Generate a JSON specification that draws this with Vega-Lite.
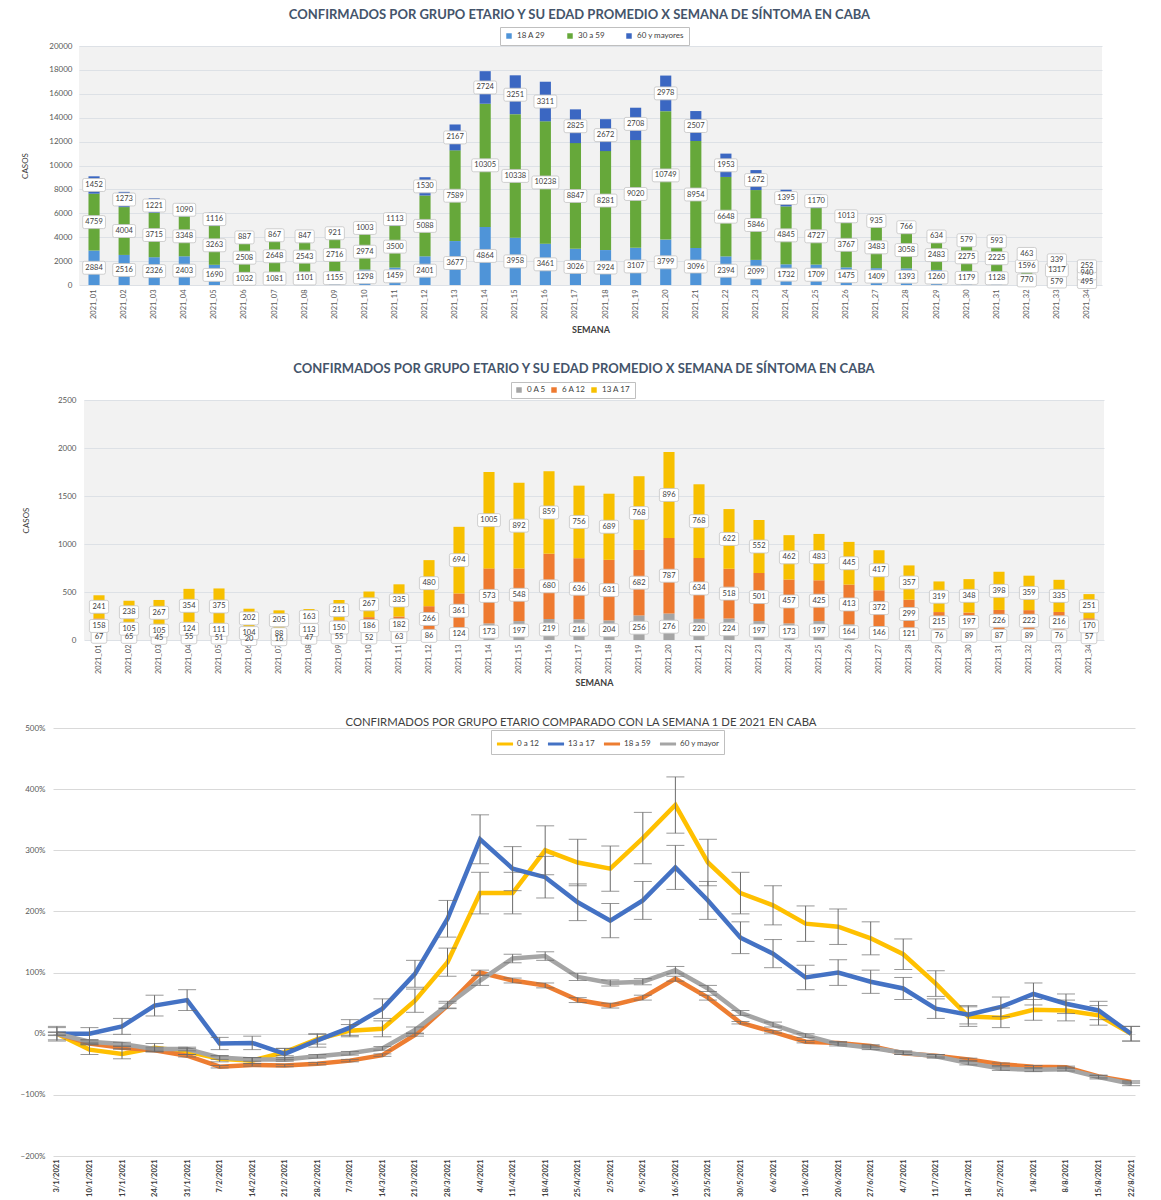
{
"$schema":"https://vega.github.io/schema/vega-lite/v6.json",
"background":"white",
"padding":{"left":20,"top":9,"right":10,"bottom":2},
"config":{
 "font":"Lato",
 "view":{"stroke":null},
 "axis":{"labelColor":"#595959","labelFontSize":8,"domain":false,"ticks":false,"gridColor":"#dde1e6","titleColor":"#404040","titleFontWeight":"normal"},
 "legend":{"labelColor":"#404040","labelFontSize":8,"strokeColor":"#bfbfbf","fillColor":"white","padding":4,"columnPadding":18},
 "title":{"anchor":"middle"}
},
"datasets":{
"p1":[
{"s":"2021_01","g":"18 A 29","o":1,"v":2884},{"s":"2021_01","g":"30 a 59","o":2,"v":4759},{"s":"2021_01","g":"60 y mayores","o":3,"v":1452},
{"s":"2021_02","g":"18 A 29","o":1,"v":2516},{"s":"2021_02","g":"30 a 59","o":2,"v":4004},{"s":"2021_02","g":"60 y mayores","o":3,"v":1273},
{"s":"2021_03","g":"18 A 29","o":1,"v":2326},{"s":"2021_03","g":"30 a 59","o":2,"v":3715},{"s":"2021_03","g":"60 y mayores","o":3,"v":1221},
{"s":"2021_04","g":"18 A 29","o":1,"v":2403},{"s":"2021_04","g":"30 a 59","o":2,"v":3348},{"s":"2021_04","g":"60 y mayores","o":3,"v":1090},
{"s":"2021_05","g":"18 A 29","o":1,"v":1690},{"s":"2021_05","g":"30 a 59","o":2,"v":3263},{"s":"2021_05","g":"60 y mayores","o":3,"v":1116},
{"s":"2021_06","g":"18 A 29","o":1,"v":1032},{"s":"2021_06","g":"30 a 59","o":2,"v":2508},{"s":"2021_06","g":"60 y mayores","o":3,"v":887},
{"s":"2021_07","g":"18 A 29","o":1,"v":1081},{"s":"2021_07","g":"30 a 59","o":2,"v":2648},{"s":"2021_07","g":"60 y mayores","o":3,"v":867},
{"s":"2021_08","g":"18 A 29","o":1,"v":1101},{"s":"2021_08","g":"30 a 59","o":2,"v":2543},{"s":"2021_08","g":"60 y mayores","o":3,"v":847},
{"s":"2021_09","g":"18 A 29","o":1,"v":1155},{"s":"2021_09","g":"30 a 59","o":2,"v":2716},{"s":"2021_09","g":"60 y mayores","o":3,"v":921},
{"s":"2021_10","g":"18 A 29","o":1,"v":1298},{"s":"2021_10","g":"30 a 59","o":2,"v":2974},{"s":"2021_10","g":"60 y mayores","o":3,"v":1003},
{"s":"2021_11","g":"18 A 29","o":1,"v":1459},{"s":"2021_11","g":"30 a 59","o":2,"v":3500},{"s":"2021_11","g":"60 y mayores","o":3,"v":1113},
{"s":"2021_12","g":"18 A 29","o":1,"v":2401},{"s":"2021_12","g":"30 a 59","o":2,"v":5088},{"s":"2021_12","g":"60 y mayores","o":3,"v":1530},
{"s":"2021_13","g":"18 A 29","o":1,"v":3677},{"s":"2021_13","g":"30 a 59","o":2,"v":7589},{"s":"2021_13","g":"60 y mayores","o":3,"v":2167},
{"s":"2021_14","g":"18 A 29","o":1,"v":4864},{"s":"2021_14","g":"30 a 59","o":2,"v":10305},{"s":"2021_14","g":"60 y mayores","o":3,"v":2724},
{"s":"2021_15","g":"18 A 29","o":1,"v":3958},{"s":"2021_15","g":"30 a 59","o":2,"v":10338},{"s":"2021_15","g":"60 y mayores","o":3,"v":3251},
{"s":"2021_16","g":"18 A 29","o":1,"v":3461},{"s":"2021_16","g":"30 a 59","o":2,"v":10238},{"s":"2021_16","g":"60 y mayores","o":3,"v":3311},
{"s":"2021_17","g":"18 A 29","o":1,"v":3026},{"s":"2021_17","g":"30 a 59","o":2,"v":8847},{"s":"2021_17","g":"60 y mayores","o":3,"v":2825},
{"s":"2021_18","g":"18 A 29","o":1,"v":2924},{"s":"2021_18","g":"30 a 59","o":2,"v":8281},{"s":"2021_18","g":"60 y mayores","o":3,"v":2672},
{"s":"2021_19","g":"18 A 29","o":1,"v":3107},{"s":"2021_19","g":"30 a 59","o":2,"v":9020},{"s":"2021_19","g":"60 y mayores","o":3,"v":2708},
{"s":"2021_20","g":"18 A 29","o":1,"v":3799},{"s":"2021_20","g":"30 a 59","o":2,"v":10749},{"s":"2021_20","g":"60 y mayores","o":3,"v":2978},
{"s":"2021_21","g":"18 A 29","o":1,"v":3096},{"s":"2021_21","g":"30 a 59","o":2,"v":8954},{"s":"2021_21","g":"60 y mayores","o":3,"v":2507},
{"s":"2021_22","g":"18 A 29","o":1,"v":2394},{"s":"2021_22","g":"30 a 59","o":2,"v":6648},{"s":"2021_22","g":"60 y mayores","o":3,"v":1953},
{"s":"2021_23","g":"18 A 29","o":1,"v":2099},{"s":"2021_23","g":"30 a 59","o":2,"v":5846},{"s":"2021_23","g":"60 y mayores","o":3,"v":1672},
{"s":"2021_24","g":"18 A 29","o":1,"v":1732},{"s":"2021_24","g":"30 a 59","o":2,"v":4845},{"s":"2021_24","g":"60 y mayores","o":3,"v":1395},
{"s":"2021_25","g":"18 A 29","o":1,"v":1709},{"s":"2021_25","g":"30 a 59","o":2,"v":4727},{"s":"2021_25","g":"60 y mayores","o":3,"v":1170},
{"s":"2021_26","g":"18 A 29","o":1,"v":1475},{"s":"2021_26","g":"30 a 59","o":2,"v":3767},{"s":"2021_26","g":"60 y mayores","o":3,"v":1013},
{"s":"2021_27","g":"18 A 29","o":1,"v":1409},{"s":"2021_27","g":"30 a 59","o":2,"v":3483},{"s":"2021_27","g":"60 y mayores","o":3,"v":935},
{"s":"2021_28","g":"18 A 29","o":1,"v":1393},{"s":"2021_28","g":"30 a 59","o":2,"v":3058},{"s":"2021_28","g":"60 y mayores","o":3,"v":766},
{"s":"2021_29","g":"18 A 29","o":1,"v":1260},{"s":"2021_29","g":"30 a 59","o":2,"v":2483},{"s":"2021_29","g":"60 y mayores","o":3,"v":634},
{"s":"2021_30","g":"18 A 29","o":1,"v":1179},{"s":"2021_30","g":"30 a 59","o":2,"v":2275},{"s":"2021_30","g":"60 y mayores","o":3,"v":579},
{"s":"2021_31","g":"18 A 29","o":1,"v":1128},{"s":"2021_31","g":"30 a 59","o":2,"v":2225},{"s":"2021_31","g":"60 y mayores","o":3,"v":593},
{"s":"2021_32","g":"18 A 29","o":1,"v":770},{"s":"2021_32","g":"30 a 59","o":2,"v":1596},{"s":"2021_32","g":"60 y mayores","o":3,"v":463},
{"s":"2021_33","g":"18 A 29","o":1,"v":579},{"s":"2021_33","g":"30 a 59","o":2,"v":1317},{"s":"2021_33","g":"60 y mayores","o":3,"v":339},
{"s":"2021_34","g":"18 A 29","o":1,"v":495},{"s":"2021_34","g":"30 a 59","o":2,"v":940},{"s":"2021_34","g":"60 y mayores","o":3,"v":252}
],
"p2":[
{"s":"2021_01","g":"0 A 5","o":1,"v":67},{"s":"2021_01","g":"6 A 12","o":2,"v":158},{"s":"2021_01","g":"13 A 17","o":3,"v":241},
{"s":"2021_02","g":"0 A 5","o":1,"v":65},{"s":"2021_02","g":"6 A 12","o":2,"v":105},{"s":"2021_02","g":"13 A 17","o":3,"v":238},
{"s":"2021_03","g":"0 A 5","o":1,"v":45},{"s":"2021_03","g":"6 A 12","o":2,"v":105},{"s":"2021_03","g":"13 A 17","o":3,"v":267},
{"s":"2021_04","g":"0 A 5","o":1,"v":55},{"s":"2021_04","g":"6 A 12","o":2,"v":124},{"s":"2021_04","g":"13 A 17","o":3,"v":354},
{"s":"2021_05","g":"0 A 5","o":1,"v":51},{"s":"2021_05","g":"6 A 12","o":2,"v":111},{"s":"2021_05","g":"13 A 17","o":3,"v":375},
{"s":"2021_06","g":"0 A 5","o":1,"v":20},{"s":"2021_06","g":"6 A 12","o":2,"v":104},{"s":"2021_06","g":"13 A 17","o":3,"v":202},
{"s":"2021_07","g":"0 A 5","o":1,"v":16},{"s":"2021_07","g":"6 A 12","o":2,"v":88},{"s":"2021_07","g":"13 A 17","o":3,"v":205},
{"s":"2021_08","g":"0 A 5","o":1,"v":47},{"s":"2021_08","g":"6 A 12","o":2,"v":113},{"s":"2021_08","g":"13 A 17","o":3,"v":163},
{"s":"2021_09","g":"0 A 5","o":1,"v":55},{"s":"2021_09","g":"6 A 12","o":2,"v":150},{"s":"2021_09","g":"13 A 17","o":3,"v":211},
{"s":"2021_10","g":"0 A 5","o":1,"v":52},{"s":"2021_10","g":"6 A 12","o":2,"v":186},{"s":"2021_10","g":"13 A 17","o":3,"v":267},
{"s":"2021_11","g":"0 A 5","o":1,"v":63},{"s":"2021_11","g":"6 A 12","o":2,"v":182},{"s":"2021_11","g":"13 A 17","o":3,"v":335},
{"s":"2021_12","g":"0 A 5","o":1,"v":86},{"s":"2021_12","g":"6 A 12","o":2,"v":266},{"s":"2021_12","g":"13 A 17","o":3,"v":480},
{"s":"2021_13","g":"0 A 5","o":1,"v":124},{"s":"2021_13","g":"6 A 12","o":2,"v":361},{"s":"2021_13","g":"13 A 17","o":3,"v":694},
{"s":"2021_14","g":"0 A 5","o":1,"v":173},{"s":"2021_14","g":"6 A 12","o":2,"v":573},{"s":"2021_14","g":"13 A 17","o":3,"v":1005},
{"s":"2021_15","g":"0 A 5","o":1,"v":197},{"s":"2021_15","g":"6 A 12","o":2,"v":548},{"s":"2021_15","g":"13 A 17","o":3,"v":892},
{"s":"2021_16","g":"0 A 5","o":1,"v":219},{"s":"2021_16","g":"6 A 12","o":2,"v":680},{"s":"2021_16","g":"13 A 17","o":3,"v":859},
{"s":"2021_17","g":"0 A 5","o":1,"v":216},{"s":"2021_17","g":"6 A 12","o":2,"v":636},{"s":"2021_17","g":"13 A 17","o":3,"v":756},
{"s":"2021_18","g":"0 A 5","o":1,"v":204},{"s":"2021_18","g":"6 A 12","o":2,"v":631},{"s":"2021_18","g":"13 A 17","o":3,"v":689},
{"s":"2021_19","g":"0 A 5","o":1,"v":256},{"s":"2021_19","g":"6 A 12","o":2,"v":682},{"s":"2021_19","g":"13 A 17","o":3,"v":768},
{"s":"2021_20","g":"0 A 5","o":1,"v":276},{"s":"2021_20","g":"6 A 12","o":2,"v":787},{"s":"2021_20","g":"13 A 17","o":3,"v":896},
{"s":"2021_21","g":"0 A 5","o":1,"v":220},{"s":"2021_21","g":"6 A 12","o":2,"v":634},{"s":"2021_21","g":"13 A 17","o":3,"v":768},
{"s":"2021_22","g":"0 A 5","o":1,"v":224},{"s":"2021_22","g":"6 A 12","o":2,"v":518},{"s":"2021_22","g":"13 A 17","o":3,"v":622},
{"s":"2021_23","g":"0 A 5","o":1,"v":197},{"s":"2021_23","g":"6 A 12","o":2,"v":501},{"s":"2021_23","g":"13 A 17","o":3,"v":552},
{"s":"2021_24","g":"0 A 5","o":1,"v":173},{"s":"2021_24","g":"6 A 12","o":2,"v":457},{"s":"2021_24","g":"13 A 17","o":3,"v":462},
{"s":"2021_25","g":"0 A 5","o":1,"v":197},{"s":"2021_25","g":"6 A 12","o":2,"v":425},{"s":"2021_25","g":"13 A 17","o":3,"v":483},
{"s":"2021_26","g":"0 A 5","o":1,"v":164},{"s":"2021_26","g":"6 A 12","o":2,"v":413},{"s":"2021_26","g":"13 A 17","o":3,"v":445},
{"s":"2021_27","g":"0 A 5","o":1,"v":146},{"s":"2021_27","g":"6 A 12","o":2,"v":372},{"s":"2021_27","g":"13 A 17","o":3,"v":417},
{"s":"2021_28","g":"0 A 5","o":1,"v":121},{"s":"2021_28","g":"6 A 12","o":2,"v":299},{"s":"2021_28","g":"13 A 17","o":3,"v":357},
{"s":"2021_29","g":"0 A 5","o":1,"v":76},{"s":"2021_29","g":"6 A 12","o":2,"v":215},{"s":"2021_29","g":"13 A 17","o":3,"v":319},
{"s":"2021_30","g":"0 A 5","o":1,"v":89},{"s":"2021_30","g":"6 A 12","o":2,"v":197},{"s":"2021_30","g":"13 A 17","o":3,"v":348},
{"s":"2021_31","g":"0 A 5","o":1,"v":87},{"s":"2021_31","g":"6 A 12","o":2,"v":226},{"s":"2021_31","g":"13 A 17","o":3,"v":398},
{"s":"2021_32","g":"0 A 5","o":1,"v":89},{"s":"2021_32","g":"6 A 12","o":2,"v":222},{"s":"2021_32","g":"13 A 17","o":3,"v":359},
{"s":"2021_33","g":"0 A 5","o":1,"v":76},{"s":"2021_33","g":"6 A 12","o":2,"v":216},{"s":"2021_33","g":"13 A 17","o":3,"v":335},
{"s":"2021_34","g":"0 A 5","o":1,"v":57},{"s":"2021_34","g":"6 A 12","o":2,"v":170},{"s":"2021_34","g":"13 A 17","o":3,"v":251}
],
"p3":[
{"f":"3/1/2021","g":"0 a 12","v":0,"e":0.10},{"f":"10/1/2021","g":"0 a 12","v":-0.26,"e":0.08},{"f":"17/1/2021","g":"0 a 12","v":-0.33,"e":0.08},{"f":"24/1/2021","g":"0 a 12","v":-0.23,"e":0.07},{"f":"31/1/2021","g":"0 a 12","v":-0.29,"e":0.05},{"f":"7/2/2021","g":"0 a 12","v":-0.41,"e":0.05},{"f":"14/2/2021","g":"0 a 12","v":-0.44,"e":0.05},{"f":"21/2/2021","g":"0 a 12","v":-0.30,"e":0.06},{"f":"28/2/2021","g":"0 a 12","v":-0.09,"e":0.08},{"f":"7/3/2021","g":"0 a 12","v":0.05,"e":0.10},{"f":"14/3/2021","g":"0 a 12","v":0.08,"e":0.13},{"f":"21/3/2021","g":"0 a 12","v":0.54,"e":0.19},{"f":"28/3/2021","g":"0 a 12","v":1.17,"e":0.23},{"f":"4/4/2021","g":"0 a 12","v":2.30,"e":0.34},{"f":"11/4/2021","g":"0 a 12","v":2.30,"e":0.34},{"f":"18/4/2021","g":"0 a 12","v":3.00,"e":0.40},{"f":"25/4/2021","g":"0 a 12","v":2.80,"e":0.38},{"f":"2/5/2021","g":"0 a 12","v":2.70,"e":0.37},{"f":"9/5/2021","g":"0 a 12","v":3.20,"e":0.42},{"f":"16/5/2021","g":"0 a 12","v":3.74,"e":0.46},{"f":"23/5/2021","g":"0 a 12","v":2.80,"e":0.38},{"f":"30/5/2021","g":"0 a 12","v":2.30,"e":0.34},{"f":"6/6/2021","g":"0 a 12","v":2.10,"e":0.32},{"f":"13/6/2021","g":"0 a 12","v":1.80,"e":0.29},{"f":"20/6/2021","g":"0 a 12","v":1.75,"e":0.29},{"f":"27/6/2021","g":"0 a 12","v":1.56,"e":0.27},{"f":"4/7/2021","g":"0 a 12","v":1.30,"e":0.25},{"f":"11/7/2021","g":"0 a 12","v":0.82,"e":0.21},{"f":"18/7/2021","g":"0 a 12","v":0.28,"e":0.16},{"f":"25/7/2021","g":"0 a 12","v":0.26,"e":0.16},{"f":"1/8/2021","g":"0 a 12","v":0.39,"e":0.17},{"f":"8/8/2021","g":"0 a 12","v":0.38,"e":0.17},{"f":"15/8/2021","g":"0 a 12","v":0.30,"e":0.16},{"f":"22/8/2021","g":"0 a 12","v":0.00,"e":0.12},
{"f":"3/1/2021","g":"13 a 17","v":0,"e":0.12},{"f":"10/1/2021","g":"13 a 17","v":0.00,"e":0.10},{"f":"17/1/2021","g":"13 a 17","v":0.12,"e":0.13},{"f":"24/1/2021","g":"13 a 17","v":0.46,"e":0.17},{"f":"31/1/2021","g":"13 a 17","v":0.55,"e":0.17},{"f":"7/2/2021","g":"13 a 17","v":-0.16,"e":0.10},{"f":"14/2/2021","g":"13 a 17","v":-0.15,"e":0.11},{"f":"21/2/2021","g":"13 a 17","v":-0.33,"e":0.09},{"f":"28/2/2021","g":"13 a 17","v":-0.11,"e":0.11},{"f":"7/3/2021","g":"13 a 17","v":0.10,"e":0.13},{"f":"14/3/2021","g":"13 a 17","v":0.41,"e":0.16},{"f":"21/3/2021","g":"13 a 17","v":0.98,"e":0.22},{"f":"28/3/2021","g":"13 a 17","v":1.88,"e":0.30},{"f":"4/4/2021","g":"13 a 17","v":3.18,"e":0.40},{"f":"11/4/2021","g":"13 a 17","v":2.70,"e":0.36},{"f":"18/4/2021","g":"13 a 17","v":2.56,"e":0.34},{"f":"25/4/2021","g":"13 a 17","v":2.15,"e":0.30},{"f":"2/5/2021","g":"13 a 17","v":1.85,"e":0.28},{"f":"9/5/2021","g":"13 a 17","v":2.18,"e":0.31},{"f":"16/5/2021","g":"13 a 17","v":2.72,"e":0.36},{"f":"23/5/2021","g":"13 a 17","v":2.18,"e":0.31},{"f":"30/5/2021","g":"13 a 17","v":1.57,"e":0.26},{"f":"6/6/2021","g":"13 a 17","v":1.31,"e":0.23},{"f":"13/6/2021","g":"13 a 17","v":0.92,"e":0.20},{"f":"20/6/2021","g":"13 a 17","v":1.00,"e":0.21},{"f":"27/6/2021","g":"13 a 17","v":0.85,"e":0.19},{"f":"4/7/2021","g":"13 a 17","v":0.74,"e":0.18},{"f":"11/7/2021","g":"13 a 17","v":0.41,"e":0.16},{"f":"18/7/2021","g":"13 a 17","v":0.31,"e":0.15},{"f":"25/7/2021","g":"13 a 17","v":0.44,"e":0.16},{"f":"1/8/2021","g":"13 a 17","v":0.65,"e":0.18},{"f":"8/8/2021","g":"13 a 17","v":0.49,"e":0.16},{"f":"15/8/2021","g":"13 a 17","v":0.38,"e":0.15},{"f":"22/8/2021","g":"13 a 17","v":0.00,"e":0.12},
{"f":"3/1/2021","g":"18 a 59","v":0,"e":0.02},{"f":"10/1/2021","g":"18 a 59","v":-0.16,"e":0.02},{"f":"17/1/2021","g":"18 a 59","v":-0.23,"e":0.02},{"f":"24/1/2021","g":"18 a 59","v":-0.27,"e":0.02},{"f":"31/1/2021","g":"18 a 59","v":-0.36,"e":0.02},{"f":"7/2/2021","g":"18 a 59","v":-0.54,"e":0.02},{"f":"14/2/2021","g":"18 a 59","v":-0.51,"e":0.02},{"f":"21/2/2021","g":"18 a 59","v":-0.52,"e":0.02},{"f":"28/2/2021","g":"18 a 59","v":-0.49,"e":0.02},{"f":"7/3/2021","g":"18 a 59","v":-0.44,"e":0.02},{"f":"14/3/2021","g":"18 a 59","v":-0.35,"e":0.02},{"f":"21/3/2021","g":"18 a 59","v":-0.02,"e":0.02},{"f":"28/3/2021","g":"18 a 59","v":0.46,"e":0.04},{"f":"4/4/2021","g":"18 a 59","v":1.00,"e":0.04},{"f":"11/4/2021","g":"18 a 59","v":0.87,"e":0.04},{"f":"18/4/2021","g":"18 a 59","v":0.79,"e":0.04},{"f":"25/4/2021","g":"18 a 59","v":0.55,"e":0.04},{"f":"2/5/2021","g":"18 a 59","v":0.46,"e":0.04},{"f":"9/5/2021","g":"18 a 59","v":0.59,"e":0.04},{"f":"16/5/2021","g":"18 a 59","v":0.90,"e":0.04},{"f":"23/5/2021","g":"18 a 59","v":0.59,"e":0.04},{"f":"30/5/2021","g":"18 a 59","v":0.18,"e":0.02},{"f":"6/6/2021","g":"18 a 59","v":0.03,"e":0.02},{"f":"13/6/2021","g":"18 a 59","v":-0.13,"e":0.02},{"f":"20/6/2021","g":"18 a 59","v":-0.15,"e":0.02},{"f":"27/6/2021","g":"18 a 59","v":-0.20,"e":0.02},{"f":"4/7/2021","g":"18 a 59","v":-0.32,"e":0.02},{"f":"11/7/2021","g":"18 a 59","v":-0.36,"e":0.02},{"f":"18/7/2021","g":"18 a 59","v":-0.42,"e":0.02},{"f":"25/7/2021","g":"18 a 59","v":-0.50,"e":0.02},{"f":"1/8/2021","g":"18 a 59","v":-0.54,"e":0.02},{"f":"8/8/2021","g":"18 a 59","v":-0.55,"e":0.02},{"f":"15/8/2021","g":"18 a 59","v":-0.70,"e":0.02},{"f":"22/8/2021","g":"18 a 59","v":-0.79,"e":0.02},
{"f":"3/1/2021","g":"60 y mayor","v":0,"e":0.03},{"f":"10/1/2021","g":"60 y mayor","v":-0.13,"e":0.03},{"f":"17/1/2021","g":"60 y mayor","v":-0.17,"e":0.03},{"f":"24/1/2021","g":"60 y mayor","v":-0.25,"e":0.03},{"f":"31/1/2021","g":"60 y mayor","v":-0.25,"e":0.03},{"f":"7/2/2021","g":"60 y mayor","v":-0.39,"e":0.03},{"f":"14/2/2021","g":"60 y mayor","v":-0.42,"e":0.03},{"f":"21/2/2021","g":"60 y mayor","v":-0.42,"e":0.03},{"f":"28/2/2021","g":"60 y mayor","v":-0.37,"e":0.03},{"f":"7/3/2021","g":"60 y mayor","v":-0.32,"e":0.03},{"f":"14/3/2021","g":"60 y mayor","v":-0.24,"e":0.03},{"f":"21/3/2021","g":"60 y mayor","v":0.06,"e":0.05},{"f":"28/3/2021","g":"60 y mayor","v":0.47,"e":0.06},{"f":"4/4/2021","g":"60 y mayor","v":0.87,"e":0.08},{"f":"11/4/2021","g":"60 y mayor","v":1.23,"e":0.07},{"f":"18/4/2021","g":"60 y mayor","v":1.27,"e":0.07},{"f":"25/4/2021","g":"60 y mayor","v":0.93,"e":0.06},{"f":"2/5/2021","g":"60 y mayor","v":0.83,"e":0.05},{"f":"9/5/2021","g":"60 y mayor","v":0.85,"e":0.05},{"f":"16/5/2021","g":"60 y mayor","v":1.04,"e":0.06},{"f":"23/5/2021","g":"60 y mayor","v":0.74,"e":0.05},{"f":"30/5/2021","g":"60 y mayor","v":0.34,"e":0.04},{"f":"6/6/2021","g":"60 y mayor","v":0.15,"e":0.04},{"f":"13/6/2021","g":"60 y mayor","v":-0.03,"e":0.03},{"f":"20/6/2021","g":"60 y mayor","v":-0.17,"e":0.03},{"f":"27/6/2021","g":"60 y mayor","v":-0.23,"e":0.03},{"f":"4/7/2021","g":"60 y mayor","v":-0.31,"e":0.03},{"f":"11/7/2021","g":"60 y mayor","v":-0.37,"e":0.03},{"f":"18/7/2021","g":"60 y mayor","v":-0.48,"e":0.03},{"f":"25/7/2021","g":"60 y mayor","v":-0.57,"e":0.03},{"f":"1/8/2021","g":"60 y mayor","v":-0.59,"e":0.03},{"f":"8/8/2021","g":"60 y mayor","v":-0.58,"e":0.03},{"f":"15/8/2021","g":"60 y mayor","v":-0.71,"e":0.03},{"f":"22/8/2021","g":"60 y mayor","v":-0.82,"e":0.03}
]
},
"vconcat":[
{
 "hconcat":[
 {"width":26,"height":10,"data":{"values":[{"a":1}]},"mark":{"type":"point","opacity":0},"encoding":{}},
 {
 "width":1023,"height":239,
 "data":{"name":"p1"},
 "view":{"fill":"#f2f2f2","stroke":null},
 "title":{"text":"CONFIRMADOS POR GRUPO ETARIO Y SU EDAD PROMEDIO X SEMANA DE SÍNTOMA EN CABA","fontSize":13,"fontWeight":"bold","color":"#44546a","offset":20,"dx":-11},
 "encoding":{
  "x":{"field":"s","type":"nominal","sort":null,"scale":{"paddingInner":0.63,"paddingOuter":0.315},"axis":{"title":"SEMANA","labelAngle":-90,"labelFontSize":7.5,"labelPadding":4,"titleFontSize":9,"titleFontWeight":"bold","titlePadding":7,"grid":false}},
  "y":{"field":"v","type":"quantitative","stack":"zero","scale":{"domain":[0,20000]},"axis":{"title":"CASOS","format":"d","values":[0,2000,4000,6000,8000,10000,12000,14000,16000,18000,20000],"labelPadding":7,"titlePadding":19,"titleFontSize":8}},
  "order":{"field":"o","type":"quantitative"}
 },
 "layer":[
  {"mark":{"type":"bar"},"encoding":{"color":{"field":"g","type":"nominal","sort":null,"scale":{"domain":["18 A 29","30 a 59","60 y mayores"],"range":["#4f94d8","#66a83a","#3b67c2"]},"legend":{"title":null,"orient":"none","legendX":447,"legendY":-19,"direction":"horizontal","symbolType":"square","symbolSize":30,"padding":5,"columnPadding":20}}}},
  {"mark":{"type":"point","filled":true,"fill":"white","stroke":"#c4c4c4","strokeWidth":0.8,"opacity":1,"size":576},
   "encoding":{"detail":{"field":"g"},"y":{"field":"v","type":"quantitative","stack":"zero","bandPosition":0.5},
    "shape":{"condition":[{"test":"datum.v >= 10000","value":"M-0.97,-0.54H0.97Q1.12,-0.54 1.12,-0.39V0.39Q1.12,0.54 0.97,0.54H-0.97Q-1.12,0.54 -1.12,0.39V-0.39Q-1.12,-0.54 -0.97,-0.54Z"},{"test":"datum.v >= 1000","value":"M-0.8,-0.54H0.8Q0.95,-0.54 0.95,-0.39V0.39Q0.95,0.54 0.8,0.54H-0.8Q-0.95,0.54 -0.95,0.39V-0.39Q-0.95,-0.54 -0.8,-0.54Z"}],"value":"M-0.65,-0.54H0.65Q0.8,-0.54 0.8,-0.39V0.39Q0.8,0.54 0.65,0.54H-0.65Q-0.8,0.54 -0.8,0.39V-0.39Q-0.8,-0.54 -0.65,-0.54Z"}}},
  {"mark":{"type":"text","fontSize":7.5,"color":"#404040"},
   "encoding":{"detail":{"field":"g"},"y":{"field":"v","type":"quantitative","stack":"zero","bandPosition":0.5},"text":{"field":"v","type":"quantitative","format":"d"}}}
 ]
 }
 ],
 "spacing":0,"bounds":"flush"
},
{
 "hconcat":[
 {"width":31,"height":10,"data":{"values":[{"a":1}]},"mark":{"type":"point","opacity":0},"encoding":{}},
 {
  "width":1020,"height":240,
  "data":{"name":"p2"},
  "view":{"fill":"#f2f2f2","stroke":null},
  "title":{"text":"CONFIRMADOS POR GRUPO ETARIO Y SU EDAD PROMEDIO X SEMANA DE SÍNTOMA EN CABA","fontSize":13,"fontWeight":"bold","color":"#44546a","offset":20,"dx":-10},
  "encoding":{
   "x":{"field":"s","type":"nominal","sort":null,"scale":{"paddingInner":0.63,"paddingOuter":0.315},"axis":{"title":"SEMANA","labelAngle":-90,"labelFontSize":7.5,"labelPadding":4,"titleFontSize":9,"titleFontWeight":"bold","titlePadding":5,"grid":false}},
   "y":{"field":"v","type":"quantitative","stack":"zero","scale":{"domain":[0,2500]},"axis":{"title":"CASOS","format":"d","values":[0,500,1000,1500,2000,2500],"labelPadding":8,"titlePadding":27,"titleFontSize":8}},
   "order":{"field":"o","type":"quantitative"}
  },
  "layer":[
   {"mark":{"type":"bar"},"encoding":{"color":{"field":"g","type":"nominal","sort":null,"scale":{"domain":["0 A 5","6 A 12","13 A 17"],"range":["#a5a5a5","#ee7a30","#f7c000"]},"legend":{"title":null,"orient":"none","legendX":458,"legendY":-18,"direction":"horizontal","symbolType":"square","symbolSize":30,"columnPadding":4}}}},
   {"mark":{"type":"point","filled":true,"fill":"white","stroke":"#c4c4c4","strokeWidth":0.8,"opacity":1,"size":576},
    "encoding":{"detail":{"field":"g"},"y":{"field":"v","type":"quantitative","stack":"zero","bandPosition":0.5},
     "shape":{"condition":[{"test":"datum.v >= 1000","value":"M-0.8,-0.54H0.8Q0.95,-0.54 0.95,-0.39V0.39Q0.95,0.54 0.8,0.54H-0.8Q-0.95,0.54 -0.95,0.39V-0.39Q-0.95,-0.54 -0.8,-0.54Z"},{"test":"datum.v >= 100","value":"M-0.65,-0.54H0.65Q0.8,-0.54 0.8,-0.39V0.39Q0.8,0.54 0.65,0.54H-0.65Q-0.8,0.54 -0.8,0.39V-0.39Q-0.8,-0.54 -0.65,-0.54Z"}],"value":"M-0.5,-0.54H0.5Q0.65,-0.54 0.65,-0.39V0.39Q0.65,0.54 0.5,0.54H-0.5Q-0.65,0.54 -0.65,0.39V-0.39Q-0.65,-0.54 -0.5,-0.54Z"}}},
   {"mark":{"type":"text","fontSize":7.5,"color":"#404040"},
    "encoding":{"detail":{"field":"g"},"y":{"field":"v","type":"quantitative","stack":"zero","bandPosition":0.5},"text":{"field":"v","type":"quantitative","format":"d"}}}
  ]
 }
 ],
 "spacing":0,"bounds":"flush"
},
{
  "width":1082,"height":428,
  "data":{"name":"p3"},
  "title":{"text":"CONFIRMADOS POR GRUPO ETARIO COMPARADO CON LA SEMANA 1 DE 2021 EN CABA","fontSize":11.3,"fontWeight":"normal","color":"#404040","offset":-4,"frame":"group","dx":-13},
  "encoding":{
   "x":{"field":"f","type":"ordinal","sort":null,"scale":{"type":"point","padding":0.12},"axis":{"title":null,"labelAngle":-90,"labelFontSize":7.5,"labelFontWeight":"bold","labelColor":"#404040","labelPadding":3,"grid":false}},
   "y":{"field":"v","type":"quantitative","scale":{"domain":[-2,5]},"axis":{"title":null,"format":".0%","values":[-2,-1,0,1,2,3,4,5],"gridColor":"#d9d9d9","labelPadding":8}}
  },
  "layer":[
   {"mark":{"type":"line","strokeWidth":4.5},"encoding":{"color":{"field":"g","type":"nominal","sort":null,"scale":{"domain":["0 a 12","13 a 17","18 a 59","60 y mayor"],"range":["#ffc000","#4472c4","#ed7d31","#a5a5a5"]},"legend":{"title":null,"orient":"none","legendX":438,"legendY":2,"direction":"horizontal","symbolType":"stroke","symbolStrokeWidth":3,"symbolSize":260,"columnPadding":2,"labelOffset":2}}}},
   {"mark":{"type":"errorbar","ticks":true,"color":"#6b6b6b","thickness":1},"encoding":{"y":{"field":"v","type":"quantitative"},"yError":{"field":"e"}}}
  ]
}
],
"spacing":28,
"resolve":{"scale":{"color":"independent"},"legend":{"color":"independent"}}
}
